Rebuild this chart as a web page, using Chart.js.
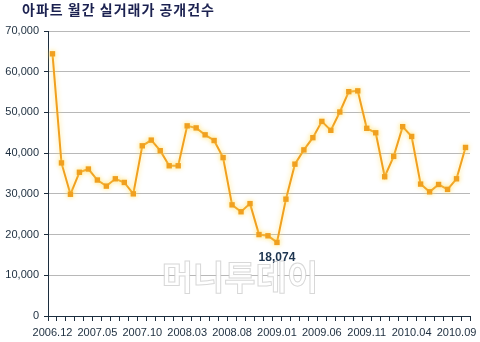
<!DOCTYPE html>
<html><head><meta charset="utf-8">
<script src="https://cdn.jsdelivr.net/npm/chart.js@4/dist/chart.umd.min.js"></script>
<style>html,body{margin:0;padding:0;background:#fff}#wrap{width:480px;height:342px}</style>
</head><body><div id="wrap"><canvas id="c" width="480" height="342"></canvas></div>
<script>
const titleText = "아파트 월간 실거래가 공개건수";
const watermarkText = "머니투데이";
const months = [
  "2006.12",
  "2007.01","2007.02","2007.03","2007.04","2007.05","2007.06","2007.07","2007.08","2007.09","2007.10","2007.11","2007.12",
  "2008.01","2008.02","2008.03","2008.04","2008.05","2008.06","2008.07","2008.08","2008.09","2008.10","2008.11","2008.12",
  "2009.01","2009.02","2009.03","2009.04","2009.05","2009.06","2009.07","2009.08","2009.09","2009.10","2009.11","2009.12",
  "2010.01","2010.02","2010.03","2010.04","2010.05","2010.06","2010.07","2010.08","2010.09","2010.10"
];
const counts = [
  64400,37600,29900,35300,36100,33400,31900,33700,32800,30000,
  41800,43200,40600,36900,36900,46700,46200,44500,43100,38900,
  27300,25600,27600,20000,19700,18074,28700,37300,40800,43800,
  47800,45600,50100,55100,55300,46100,45000,34200,39200,46500,
  44100,32400,30500,32300,31100,33700,41400
];
const yMin = 0, yMax = 70000, yStep = 10000;
const labelEvery = 5;
const annotatedIndex = 25; // 2009.01 minimum

const navy = '#1c2d3e';
const orange = '#f0a020';

const extras = {
  id: 'extras',
  beforeDatasetsDraw(chart) {
    const ctx = chart.ctx;
    ctx.save();
    ctx.font = 'bold 34px "Noto Sans CJK KR"';
    ctx.textAlign = 'center';
    ctx.textBaseline = 'middle';
    ctx.fillStyle = 'rgba(255,255,255,0.95)';
    ctx.fillText(watermarkText, 240, 277);
    ctx.strokeStyle = 'rgba(200,200,200,0.7)';
    ctx.lineWidth = 1;
    ctx.strokeText(watermarkText, 240, 277);
    ctx.restore();
    ctx.save();
    ctx.shadowColor = 'rgba(255,225,110,0.9)';
    ctx.shadowBlur = 5;
  },
  afterDatasetsDraw(chart) {
    const ctx = chart.ctx;
    ctx.restore();
    const xs = chart.scales.x, ys = chart.scales.y;
    const px = xs.getPixelForValue(annotatedIndex);
    const py = ys.getPixelForValue(counts[annotatedIndex]);
    ctx.save();
    ctx.font = 'bold 12px "Liberation Sans"';
    ctx.fillStyle = '#1e3550';
    ctx.textAlign = 'center';
    ctx.textBaseline = 'middle';
    ctx.fillText(counts[annotatedIndex].toLocaleString('en-US'), px, py + 15);
    ctx.restore();
  },
  afterDraw(chart) {
    const ctx = chart.ctx;
    ctx.save();
    ctx.font = 'bold 14px "Noto Sans CJK KR"';
    try { ctx.letterSpacing = '1px'; } catch (e) {}
    ctx.fillStyle = '#1b2150';
    ctx.textAlign = 'left';
    ctx.textBaseline = 'middle';
    ctx.fillText(titleText, 22, 10);
    ctx.restore();
  }
};

new Chart(document.getElementById('c'), {
  type: 'line',
  data: {
    labels: months,
    datasets: [{
      data: counts,
      borderColor: orange,
      backgroundColor: orange,
      borderWidth: 2,
      pointStyle: 'rect',
      pointRadius: 3.8,
      pointBorderWidth: 0,
      pointBackgroundColor: orange,
      tension: 0,
      fill: false
    }]
  },
  options: {
    responsive: false,
    animation: false,
    devicePixelRatio: 1,
    layout: { padding: { top: 31, right: 10, left: 0, bottom: 0 } },
    plugins: { legend: { display: false }, tooltip: { enabled: false }, title: { display: false } },
    scales: {
      x: {
        offset: true,
        grid: { offset: true, drawOnChartArea: false, drawTicks: true, tickLength: 5, color: navy, tickColor: navy },
        border: { color: navy, width: 1 },
        ticks: {
          autoSkip: false, maxRotation: 0, padding: 5,
          color: navy, font: { family: '"Liberation Sans"', size: 11 },
          callback: function(v, i) { return i % labelEvery === 0 ? this.getLabelForValue(v) : ''; }
        },
        afterFit(s) { s.height = 26; }
      },
      y: {
        min: yMin, max: yMax,
        grid: { color: '#b8b8b8', tickColor: navy, tickLength: 4, lineWidth: 1 },
        border: { color: navy, width: 1 },
        ticks: {
          stepSize: yStep, padding: 5, color: navy,
          font: { family: '"Liberation Sans"', size: 11 },
          callback: v => v.toLocaleString('en-US')
        },
        afterFit(s) { s.width = 48; }
      }
    }
  },
  plugins: [extras]
});
</script></body></html>
